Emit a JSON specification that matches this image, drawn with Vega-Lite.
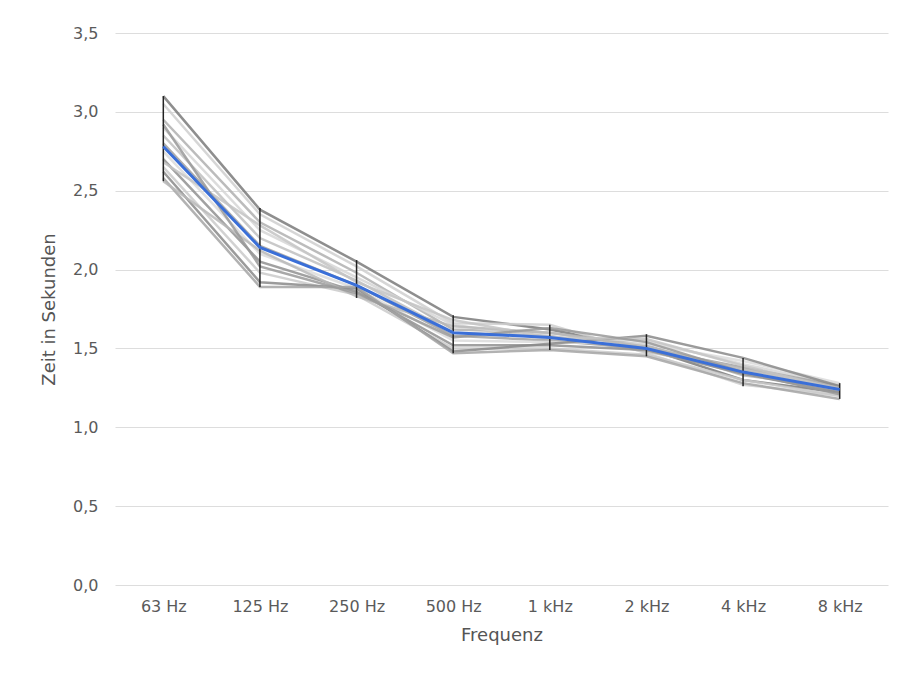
{
  "$schema": "https://vega.github.io/schema/vega-lite/v6.json",
  "autosize": "none",
  "width": 773,
  "height": 552,
  "padding": {"left": 115, "top": 33, "right": 16, "bottom": 88},
  "background": "white",
  "config": {
    "font": "DejaVu Sans",
    "view": {"stroke": null},
    "axis": {"labelFont": "DejaVu Sans", "titleFont": "DejaVu Sans", "labelColor": "#5a5a5a", "titleColor": "#555555", "labelFontSize": 16, "titleFontSize": 18, "titleFontWeight": "normal"}
  },
  "datasets": {
    "series": [
      {"s": "S1", "f": "63 Hz", "v": 3.10}, {"s": "S1", "f": "125 Hz", "v": 2.38}, {"s": "S1", "f": "250 Hz", "v": 2.05}, {"s": "S1", "f": "500 Hz", "v": 1.70}, {"s": "S1", "f": "1 kHz", "v": 1.62}, {"s": "S1", "f": "2 kHz", "v": 1.50}, {"s": "S1", "f": "4 kHz", "v": 1.30}, {"s": "S1", "f": "8 kHz", "v": 1.22},
      {"s": "S2", "f": "63 Hz", "v": 3.05}, {"s": "S2", "f": "125 Hz", "v": 2.35}, {"s": "S2", "f": "250 Hz", "v": 2.02}, {"s": "S2", "f": "500 Hz", "v": 1.66}, {"s": "S2", "f": "1 kHz", "v": 1.65}, {"s": "S2", "f": "2 kHz", "v": 1.47}, {"s": "S2", "f": "4 kHz", "v": 1.27}, {"s": "S2", "f": "8 kHz", "v": 1.20},
      {"s": "S3", "f": "63 Hz", "v": 2.95}, {"s": "S3", "f": "125 Hz", "v": 2.30}, {"s": "S3", "f": "250 Hz", "v": 1.98}, {"s": "S3", "f": "500 Hz", "v": 1.62}, {"s": "S3", "f": "1 kHz", "v": 1.60}, {"s": "S3", "f": "2 kHz", "v": 1.52}, {"s": "S3", "f": "4 kHz", "v": 1.33}, {"s": "S3", "f": "8 kHz", "v": 1.25},
      {"s": "S4", "f": "63 Hz", "v": 2.90}, {"s": "S4", "f": "125 Hz", "v": 2.25}, {"s": "S4", "f": "250 Hz", "v": 1.95}, {"s": "S4", "f": "500 Hz", "v": 1.65}, {"s": "S4", "f": "1 kHz", "v": 1.56}, {"s": "S4", "f": "2 kHz", "v": 1.55}, {"s": "S4", "f": "4 kHz", "v": 1.40}, {"s": "S4", "f": "8 kHz", "v": 1.27},
      {"s": "S5", "f": "63 Hz", "v": 2.85}, {"s": "S5", "f": "125 Hz", "v": 2.20}, {"s": "S5", "f": "250 Hz", "v": 1.93}, {"s": "S5", "f": "500 Hz", "v": 1.60}, {"s": "S5", "f": "1 kHz", "v": 1.58}, {"s": "S5", "f": "2 kHz", "v": 1.48}, {"s": "S5", "f": "4 kHz", "v": 1.36}, {"s": "S5", "f": "8 kHz", "v": 1.23},
      {"s": "S6", "f": "63 Hz", "v": 2.80}, {"s": "S6", "f": "125 Hz", "v": 2.15}, {"s": "S6", "f": "250 Hz", "v": 1.90}, {"s": "S6", "f": "500 Hz", "v": 1.58}, {"s": "S6", "f": "1 kHz", "v": 1.55}, {"s": "S6", "f": "2 kHz", "v": 1.50}, {"s": "S6", "f": "4 kHz", "v": 1.38}, {"s": "S6", "f": "8 kHz", "v": 1.26},
      {"s": "S7", "f": "63 Hz", "v": 2.75}, {"s": "S7", "f": "125 Hz", "v": 2.10}, {"s": "S7", "f": "250 Hz", "v": 1.88}, {"s": "S7", "f": "500 Hz", "v": 1.55}, {"s": "S7", "f": "1 kHz", "v": 1.54}, {"s": "S7", "f": "2 kHz", "v": 1.53}, {"s": "S7", "f": "4 kHz", "v": 1.42}, {"s": "S7", "f": "8 kHz", "v": 1.28},
      {"s": "S8", "f": "63 Hz", "v": 2.70}, {"s": "S8", "f": "125 Hz", "v": 2.05}, {"s": "S8", "f": "250 Hz", "v": 1.86}, {"s": "S8", "f": "500 Hz", "v": 1.52}, {"s": "S8", "f": "1 kHz", "v": 1.52}, {"s": "S8", "f": "2 kHz", "v": 1.49}, {"s": "S8", "f": "4 kHz", "v": 1.34}, {"s": "S8", "f": "8 kHz", "v": 1.22},
      {"s": "S9", "f": "63 Hz", "v": 2.65}, {"s": "S9", "f": "125 Hz", "v": 1.98}, {"s": "S9", "f": "250 Hz", "v": 1.84}, {"s": "S9", "f": "500 Hz", "v": 1.50}, {"s": "S9", "f": "1 kHz", "v": 1.50}, {"s": "S9", "f": "2 kHz", "v": 1.46}, {"s": "S9", "f": "4 kHz", "v": 1.30}, {"s": "S9", "f": "8 kHz", "v": 1.20},
      {"s": "S10", "f": "63 Hz", "v": 2.62}, {"s": "S10", "f": "125 Hz", "v": 1.92}, {"s": "S10", "f": "250 Hz", "v": 1.88}, {"s": "S10", "f": "500 Hz", "v": 1.48}, {"s": "S10", "f": "1 kHz", "v": 1.53}, {"s": "S10", "f": "2 kHz", "v": 1.58}, {"s": "S10", "f": "4 kHz", "v": 1.44}, {"s": "S10", "f": "8 kHz", "v": 1.26},
      {"s": "S11", "f": "63 Hz", "v": 2.58}, {"s": "S11", "f": "125 Hz", "v": 1.89}, {"s": "S11", "f": "250 Hz", "v": 1.89}, {"s": "S11", "f": "500 Hz", "v": 1.47}, {"s": "S11", "f": "1 kHz", "v": 1.49}, {"s": "S11", "f": "2 kHz", "v": 1.45}, {"s": "S11", "f": "4 kHz", "v": 1.28}, {"s": "S11", "f": "8 kHz", "v": 1.18},
      {"s": "S12", "f": "63 Hz", "v": 2.56}, {"s": "S12", "f": "125 Hz", "v": 2.12}, {"s": "S12", "f": "250 Hz", "v": 1.83}, {"s": "S12", "f": "500 Hz", "v": 1.64}, {"s": "S12", "f": "1 kHz", "v": 1.60}, {"s": "S12", "f": "2 kHz", "v": 1.51}, {"s": "S12", "f": "4 kHz", "v": 1.37}, {"s": "S12", "f": "8 kHz", "v": 1.25},
      {"s": "S13", "f": "63 Hz", "v": 2.68}, {"s": "S13", "f": "125 Hz", "v": 2.28}, {"s": "S13", "f": "250 Hz", "v": 1.92}, {"s": "S13", "f": "500 Hz", "v": 1.68}, {"s": "S13", "f": "1 kHz", "v": 1.57}, {"s": "S13", "f": "2 kHz", "v": 1.56}, {"s": "S13", "f": "4 kHz", "v": 1.39}, {"s": "S13", "f": "8 kHz", "v": 1.24},
      {"s": "S14", "f": "63 Hz", "v": 2.92}, {"s": "S14", "f": "125 Hz", "v": 2.02}, {"s": "S14", "f": "250 Hz", "v": 1.85}, {"s": "S14", "f": "500 Hz", "v": 1.57}, {"s": "S14", "f": "1 kHz", "v": 1.63}, {"s": "S14", "f": "2 kHz", "v": 1.54}, {"s": "S14", "f": "4 kHz", "v": 1.35}, {"s": "S14", "f": "8 kHz", "v": 1.21}
    ],
    "summary": [
      {"f": "63 Hz", "mean": 2.78, "lo": 2.56, "hi": 3.10},
      {"f": "125 Hz", "mean": 2.14, "lo": 1.89, "hi": 2.39},
      {"f": "250 Hz", "mean": 1.90, "lo": 1.82, "hi": 2.06},
      {"f": "500 Hz", "mean": 1.60, "lo": 1.47, "hi": 1.71},
      {"f": "1 kHz", "mean": 1.57, "lo": 1.49, "hi": 1.65},
      {"f": "2 kHz", "mean": 1.50, "lo": 1.45, "hi": 1.59},
      {"f": "4 kHz", "mean": 1.35, "lo": 1.26, "hi": 1.44},
      {"f": "8 kHz", "mean": 1.24, "lo": 1.18, "hi": 1.28}
    ]
  },
  "layer": [
    {
      "data": {"name": "series"},
      "mark": {"type": "line", "strokeWidth": 2.5, "opacity": 0.85},
      "encoding": {
        "x": {"field": "f", "type": "nominal", "sort": ["63 Hz", "125 Hz", "250 Hz", "500 Hz", "1 kHz", "2 kHz", "4 kHz", "8 kHz"], "scale": {"type": "point", "padding": 0.5},
          "axis": {"title": "Frequenz", "labelAngle": 0, "domain": false, "ticks": false, "grid": false, "labelPadding": 13, "titlePadding": 12}},
        "y": {"field": "v", "type": "quantitative", "scale": {"domain": [0, 3.5]},
          "axis": {"title": "Zeit in Sekunden", "values": [0, 0.5, 1, 1.5, 2, 2.5, 3, 3.5], "labelExpr": "replace(format(datum.value, '.1f'), '.', ',')", "domain": false, "ticks": false, "gridColor": "#dddddd", "gridWidth": 1.2, "labelPadding": 17, "titlePadding": 14}},
        "color": {"field": "s", "type": "nominal", "legend": null,
          "scale": {"range": ["#7a7a7a", "#8a8a8a", "#a5a5a5", "#b8b8b8", "#c4c4c4", "#999999", "#cfcfcf", "#b0b0b0", "#d6d6d6", "#c0c0c0", "#a0a0a0", "#dadada", "#909090", "#cacaca"]}}
      }
    },
    {
      "data": {"name": "summary"},
      "mark": {"type": "rule", "color": "#222222", "strokeWidth": 1.5},
      "encoding": {
        "x": {"field": "f", "type": "nominal", "sort": ["63 Hz", "125 Hz", "250 Hz", "500 Hz", "1 kHz", "2 kHz", "4 kHz", "8 kHz"]},
        "y": {"field": "lo", "type": "quantitative"},
        "y2": {"field": "hi"}
      }
    },
    {
      "data": {"name": "summary"},
      "mark": {"type": "line", "color": "#3a6fd8", "strokeWidth": 3},
      "encoding": {
        "x": {"field": "f", "type": "nominal", "sort": ["63 Hz", "125 Hz", "250 Hz", "500 Hz", "1 kHz", "2 kHz", "4 kHz", "8 kHz"]},
        "y": {"field": "mean", "type": "quantitative"}
      }
    }
  ]
}
